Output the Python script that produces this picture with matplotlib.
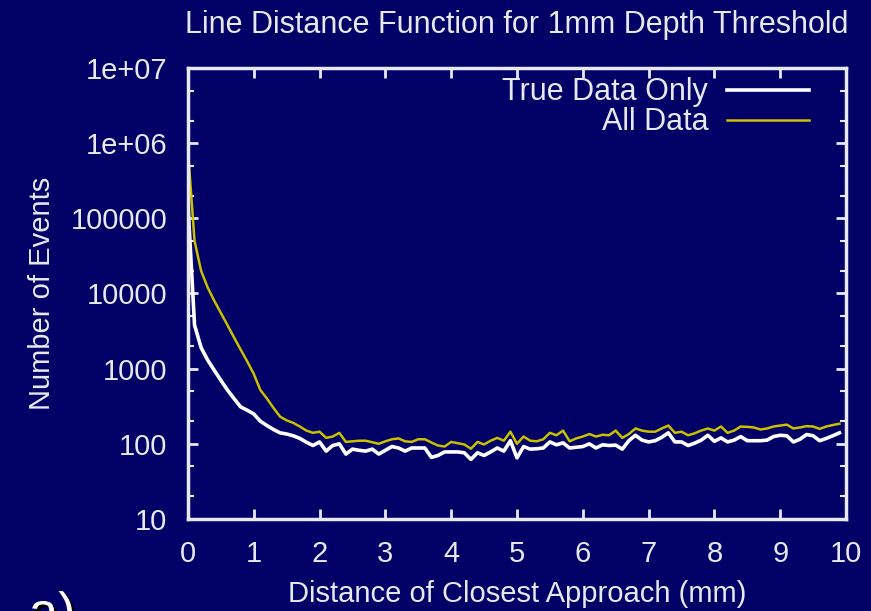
import matplotlib

matplotlib.use('Agg')
import matplotlib.pyplot as plt
import matplotlib.patheffects as pe
from matplotlib.ticker import LogLocator, FixedLocator, NullFormatter
import numpy as np

plt.rcParams['font.family'] = ['Liberation Sans', 'DejaVu Sans']

# distance of closest approach (mm), 0.1 mm bins
dist = np.round(np.arange(0, 100) * 0.1, 1)

true_only = [
    1.5e5, 3800, 1900, 1300, 950, 700, 520, 400, 310, 280,
    250, 200, 175, 155, 140, 135, 128, 118, 105, 95,
    106, 80, 95, 100, 73, 85, 82, 80, 85, 73,
    82, 92, 88, 80, 88, 88, 88, 66, 70, 78,
    78, 78, 76, 62, 76, 70, 78, 88, 80, 110,
    65, 92, 85, 86, 88, 106, 97, 103, 88, 90,
    92, 100, 88, 97, 95, 96, 85, 110, 130, 112,
    106, 110, 122, 140, 106, 106, 95, 102, 112, 130,
    108, 120, 106, 112, 125, 110, 110, 110, 112, 125,
    130, 128, 106, 115, 133, 128, 110, 118, 128, 140,
]

all_data = [
    8e5, 5e4, 2e4, 1.2e4, 8000, 5500, 3800, 2600, 1800, 1250,
    850, 520, 400, 300, 230, 205, 190, 170, 150, 140,
    145, 120, 125, 140, 106, 108, 110, 110, 105, 100,
    108, 115, 118, 108, 106, 115, 115, 104, 95, 92,
    106, 102, 98, 86, 106, 98, 110, 120, 110, 145,
    100, 125, 110, 108, 115, 140, 130, 150, 108, 118,
    125, 135, 125, 132, 130, 150, 120, 135, 160, 150,
    145, 145, 160, 175, 140, 145, 130, 138, 150, 160,
    150, 170, 140, 150, 170, 168, 165, 155, 160, 170,
    175, 180, 160, 165, 172, 170, 158, 170, 178, 185,
]

BG = '#000066'
FG = '#e8e8f0'
YELLOW = '#c8c000'

fig = plt.figure(figsize=(8.71, 6.11), dpi=100, facecolor=BG)
ax = fig.add_axes([0.2158, 0.1506, 0.9713 - 0.2158, 0.8887 - 0.1506], facecolor=BG)

ax.plot(dist, true_only, color='white', linewidth=2.6, label='True Data Only')
ax.plot(dist, all_data, color=YELLOW, linewidth=1.8, label='All Data')

ax.set_yscale('log')
ax.set_xlim(0, 10)
ax.set_ylim(10, 1e7)

ax.xaxis.set_major_locator(FixedLocator(range(0, 11)))
ax.yaxis.set_major_locator(FixedLocator([10, 100, 1000, 1e4, 1e5, 1e6, 1e7]))
ax.set_yticklabels(['10', '100', '1000', '10000', '100000', '1e+06', '1e+07'])
ax.yaxis.set_minor_locator(LogLocator(base=10, subs=(2.0, 5.0)))
ax.yaxis.set_minor_formatter(NullFormatter())

ax.tick_params(axis='both', which='major', direction='in', length=7, width=2,
               color=FG, labelcolor=FG, labelsize=21, top=True, right=True, pad=15)
ax.tick_params(axis='y', which='minor', direction='in', length=4, width=1.5,
               color=FG, left=True, right=True)
for sp in ax.spines.values():
    sp.set_color(FG)
    sp.set_linewidth(2.5)

ax.set_title('Line Distance Function for 1mm Depth Threshold', color=FG,
             fontsize=22, pad=25, x=0.5)
ax.set_ylabel('Number of Events', color=FG, fontsize=21, labelpad=10)
ax.set_xlabel('Distance of Closest Approach (mm)', color=FG, fontsize=21, labelpad=9)

leg = ax.legend(loc='upper right', frameon=False, markerfirst=False, fontsize=22,
                handlelength=2.7, handletextpad=0.6, borderaxespad=0.1,
                labelspacing=0.0, bbox_to_anchor=(0.967, 1.013))
for t in leg.get_texts():
    t.set_color(FG)

# panel label, partly cut by the bottom edge
fig.text(0.033, -0.030, 'a)', color='white', fontsize=38,
         path_effects=[pe.withSimplePatchShadow(offset=(2, -2), shadow_rgbFace='black', alpha=1.0)])

plt.savefig('out.png', dpi=100, facecolor=BG)
plt.close(fig)
